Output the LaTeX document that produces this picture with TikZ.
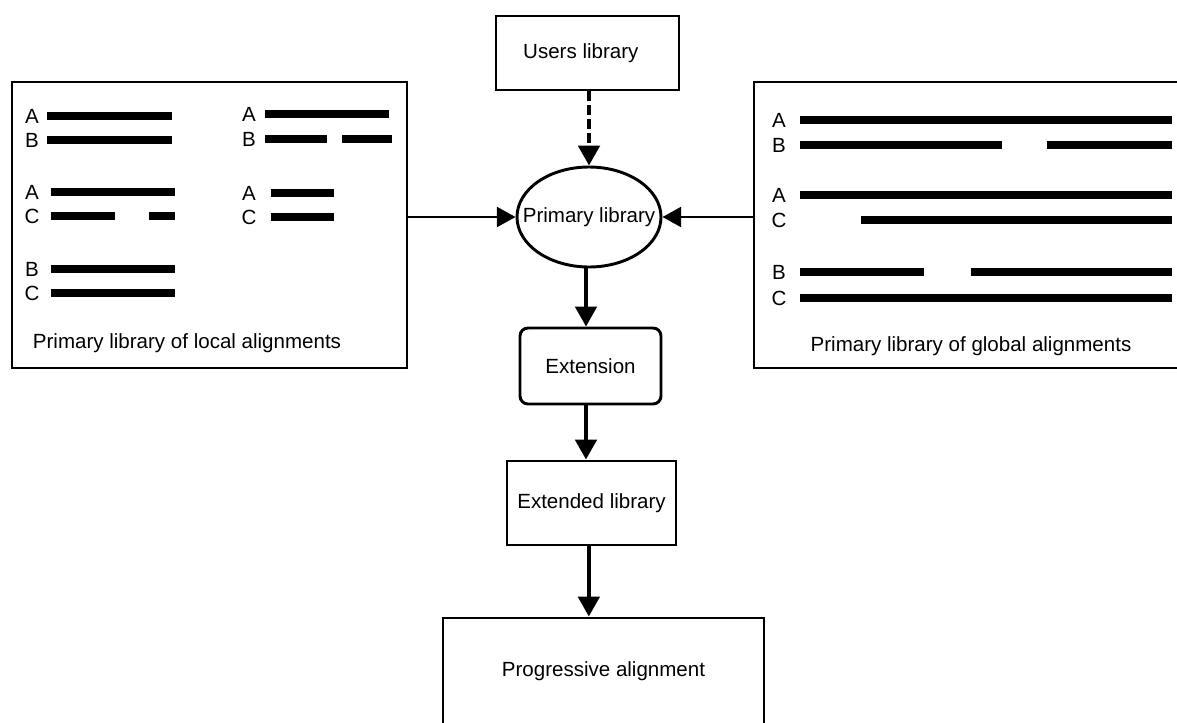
\documentclass[tikz,border=0pt]{standalone}
\usepackage{fontspec}
\setmainfont{Liberation Sans}
\usetikzlibrary{arrows.meta,shapes.geometric}

\begin{document}
\begin{tikzpicture}[x=0.75pt,y=-0.75pt,
  txt/.style={font=\fontsize{15.4pt}{18pt}\selectfont},
  box/.style={draw,line width=2.2pt,inner sep=0pt,txt},
  bar/.style={line width=6.5pt},
  flow/.style={line width=3pt,-{Triangle[length=15pt,width=16pt]}},
  feed/.style={line width=1.6pt,-{Triangle[length=14pt,width=15pt]}}]
  \useasboundingbox (0,0) rectangle (1177,722);

  % Flow
  \node[box,minimum width=137.25pt,minimum height=55.5pt] (users) at (587.5,53) {\hspace*{-10pt}Users library};
  \node[box,ellipse,minimum width=108pt,minimum height=75pt] (primary) at (589,217) {\makebox[0pt]{Primary library}};
  \node[box,rounded corners=6pt,minimum width=105.75pt,minimum height=57pt] (extension) at (590.5,366) {Extension};
  \node[box,minimum width=126.75pt,minimum height=63pt] (extended) at (591.5,503) {Extended library};
  \node[box,minimum width=240.75pt,minimum height=79.5pt] (progressive) at (603.5,671) {Progressive alignment};

  % Local alignments (left)
  \node[box,minimum width=296.25pt,minimum height=214.5pt] (localbox) at (209.5,225) {};
  \node[txt] (localcap) at (187,343) {Primary library of local alignments};
  \node[txt] (la1) at (32,116) {A};
  \node[txt] (lb1) at (32,140) {B};
  \node[txt] (la2) at (32,192) {A};
  \node[txt] (lc2) at (32,216) {C};
  \node[txt] (lb3) at (32,269) {B};
  \node[txt] (lc3) at (32,293) {C};
  \node[txt] (la4) at (249,114) {A};
  \node[txt] (lb4) at (249,139) {B};
  \node[txt] (la5) at (249,193) {A};
  \node[txt] (lc5) at (249,217) {C};
  \draw[bar] (47,116) -- (172,116);
  \draw[bar] (47,140) -- (172,140);
  \draw[bar] (51,192) -- (175,192);
  \draw[bar] (51,216) -- (115,216) (149,216) -- (175,216);
  \draw[bar] (51,269) -- (175,269);
  \draw[bar] (51,293) -- (175,293);
  \draw[bar] (265,114) -- (389,114);
  \draw[bar] (265,139) -- (327,139) (342,139) -- (392,139);
  \draw[bar] (271,193) -- (334,193);
  \draw[bar] (271,217) -- (334,217);

  % Global alignments (right)
  \node[box,minimum width=323.25pt,minimum height=214.5pt] (globalbox) at (969.5,225) {};
  \node[txt] (globalcap) at (971,346) {Primary library of global alignments};
  \node[txt] (ga1) at (779,120) {A};
  \node[txt] (gb1) at (779,145) {B};
  \node[txt] (ga2) at (779,195) {A};
  \node[txt] (gc2) at (779,220) {C};
  \node[txt] (gb3) at (779,272) {B};
  \node[txt] (gc3) at (779,298) {C};
  \draw[bar] (800,120) -- (1172,120);
  \draw[bar] (800,145) -- (1002,145) (1047,145) -- (1172,145);
  \draw[bar] (800,195) -- (1172,195);
  \draw[bar] (861,220) -- (1172,220);
  \draw[bar] (800,272) -- (924,272) (971,272) -- (1172,272);
  \draw[bar] (800,298) -- (1172,298);

  % Connectors
  \draw[flow,dash pattern=on 7.5pt off 3pt] (users.south -| primary.north) -- (primary.north);
  \draw[feed] (localbox.east |- primary.west) -- (primary.west);
  \draw[feed] (globalbox.west |- primary.east) -- (primary.east);
  \draw[flow] ([xshift=-2.25pt]primary.south) -- ([xshift=-2.25pt]primary.south |- extension.north);
  \draw[flow] ([xshift=-3.4pt]extension.south) -- ([xshift=-3.4pt]extension.south |- extended.north);
  \draw[flow] ([xshift=-2pt]extended.south) -- ([xshift=-2pt]extended.south |- progressive.north);
\end{tikzpicture}
\end{document}
